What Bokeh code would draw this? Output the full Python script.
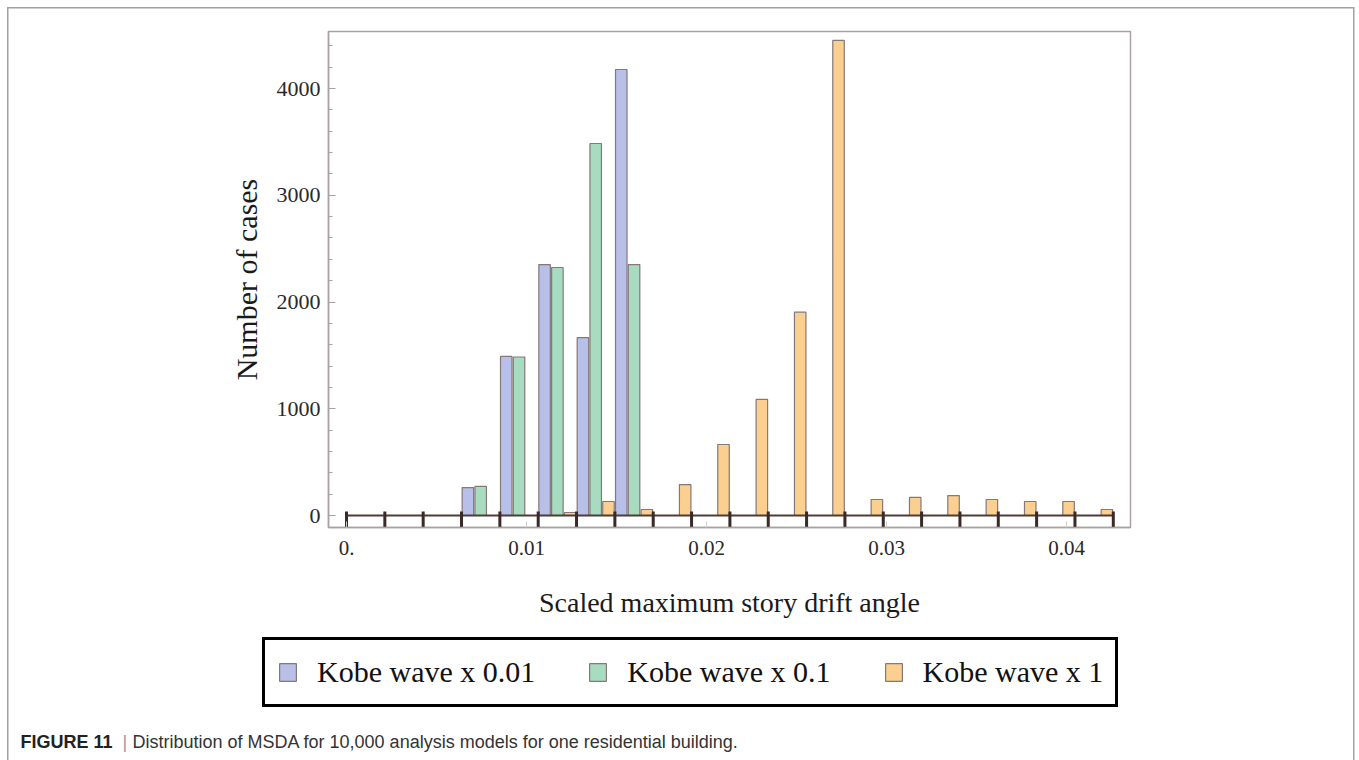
from bokeh.plotting import figure
from bokeh.layouts import column
from bokeh.models import Range1d, FixedTicker, Legend, LegendItem, Label
from bokeh.embed import file_html
from bokeh.resources import INLINE

# ---------------- data ----------------
bin_width = 0.00213
bin_index = list(range(20))
kobe_x001 = [0, 0, 0, 262, 1490, 2351, 1667, 4178, 0, 0, 0, 0, 0, 0, 0, 0, 0, 0, 0, 0]
kobe_x01 = [0, 0, 0, 272, 1485, 2323, 3485, 2351, 0, 0, 0, 0, 0, 0, 0, 0, 0, 0, 0, 0]
kobe_x1 = [0, 0, 0, 0, 0, 28, 131, 56, 290, 665, 1087, 1905, 4450, 150, 169, 187, 150, 131, 131, 56]
series_names = ["Kobe wave x 0.01", "Kobe wave x 0.1", "Kobe wave x 1"]
series_colors = ["#b8bfe8", "#a7dcc0", "#fbcf8f"]
y_ticks = [0, 1000, 2000, 3000, 4000]
y_minor_ticks = list(range(0, 4600, 200))
x_ticks = [0.0, 0.01, 0.02, 0.03, 0.04]
x_tick_labels = ["0.", "0.01", "0.02", "0.03", "0.04"]
x_title = "Scaled maximum story drift angle"
y_title = "Number of cases"
caption_bold = "FIGURE 11"
caption_text = "Distribution of MSDA for 10,000 analysis models for one residential building."

# page-pixel helpers for the chart frame (x=0 at px 346, y=0 at px 515)
PX_PER_X = 18000.0
PX_PER_Y = 0.10675
def X(px):
    return (px - 346.0) / PX_PER_X
def Y(py):
    return (515.0 - py) / PX_PER_Y

W = 1359
H_TOP = 625
H_BOT = 760 - H_TOP
serif = "Liberation Serif"
frame_col = "#aaa2a2"

p = figure(width=W, height=H_TOP, output_backend="svg", toolbar_location=None,
           x_range=Range1d(X(328), X(1130)), y_range=Range1d(Y(527), Y(31)),
           min_border_left=328, min_border_right=W - 1130,
           min_border_top=31, min_border_bottom=H_TOP - 527)
p.background_fill_color = "white"
p.border_fill_alpha = 0
p.outline_line_color = frame_col
p.outline_line_width = 1.5
p.xgrid.visible = False
p.ygrid.visible = False

# y axis
ya = p.yaxis[0]
ya.ticker = FixedTicker(ticks=y_ticks, minor_ticks=y_minor_ticks)
ya.axis_line_color = frame_col
ya.axis_line_width = 1.5
ya.major_tick_line_color = frame_col
ya.minor_tick_line_color = frame_col
ya.major_tick_in = 7
ya.major_tick_out = 0
ya.minor_tick_in = 4
ya.minor_tick_out = 0
ya.major_label_text_font = serif
ya.major_label_text_font_size = "22px"
ya.major_label_text_color = "#2a2a2a"
ya.major_label_standoff = 8
ya.axis_label = y_title
ya.axis_label_text_font = serif
ya.axis_label_text_font_size = "30px"
ya.axis_label_text_font_style = "normal"
ya.axis_label_text_color = "#1a1a1a"
ya.axis_label_standoff = 11

# x axis
xa = p.xaxis[0]
xa.ticker = FixedTicker(ticks=x_ticks, minor_ticks=[])
xa.major_label_overrides = {t: l for t, l in zip(x_ticks, x_tick_labels)}
xa.axis_line_color = frame_col
xa.axis_line_width = 1.5
xa.major_tick_line_color = "#d0caca"
xa.major_tick_in = 6
xa.major_tick_out = 0
xa.major_label_text_font = serif
xa.major_label_text_font_size = "21px"
xa.major_label_text_color = "#2a2a2a"
xa.major_label_standoff = 13
xa.axis_label = x_title
xa.axis_label_text_font = serif
xa.axis_label_text_font_size = "28px"
xa.axis_label_text_font_style = "normal"
xa.axis_label_text_color = "#1a1a1a"
xa.axis_label_standoff = 29

# bars: three series side by side in each bin
series_values = [kobe_x001, kobe_x01, kobe_x1]
for s, (vals, col) in enumerate(zip(series_values, series_colors)):
    xs = [(i + (s + 0.5) / 3.0) * bin_width for i in bin_index]
    p.vbar(x=xs, top=vals, bottom=0, width=bin_width / 3.0 * 0.9,
           fill_color=col, line_color="#857878", line_width=1.2)

# baseline and bin-edge marks
edges = [k * bin_width for k in range(len(bin_index) + 1)]
p.line(x=[edges[0], edges[-1]], y=[0, 0], line_color="#4e3c38", line_width=2.2)
p.segment(x0=edges, y0=[Y(511)] * len(edges), x1=edges, y1=[Y(528)] * len(edges),
          line_color="#3a2a27", line_width=3)

# ---------------- bottom strip: legend + caption (page-pixel coordinates) ----------------
q = figure(width=W, height=H_BOT, output_backend="svg", toolbar_location=None,
           x_range=Range1d(0, W), y_range=Range1d(760, H_TOP),
           x_axis_type=None, y_axis_type=None, min_border=0)
q.outline_line_color = None
q.background_fill_alpha = 0
q.border_fill_alpha = 0
q.xgrid.visible = False
q.ygrid.visible = False

for fig in (p, q):
    try:
        fig.frame_align = False
    except Exception:
        pass

# hidden copies of the series, used only to supply the legend swatches
legend_renderers = []
for s, (vals, col) in enumerate(zip(series_values, series_colors)):
    xs = [(i + (s + 0.5) / 3.0) * bin_width for i in bin_index]
    legend_renderers.append(q.vbar(x=xs, top=vals, bottom=0, width=bin_width / 3.0 * 0.9,
                                   fill_color=col, line_color="#857878", line_width=1.2,
                                   visible=False))

legend = Legend(items=[LegendItem(label=n, renderers=[r]) for n, r in zip(series_names, legend_renderers)],
                orientation="horizontal", location=(262, 760 - 707),
                border_line_color="black", border_line_width=3, border_line_alpha=1.0,
                background_fill_color="white", background_fill_alpha=1.0,
                inactive_fill_alpha=0.0,
                label_text_font=serif, label_text_font_size="30px", label_text_color="#111111",
                glyph_width=21, glyph_height=22, label_standoff=19, spacing=52,
                padding=12, margin=0, label_height=40)
q.add_layout(legend)

q.add_layout(Label(x=20, y=741, text=caption_bold, text_font="Liberation Sans",
                   text_font_style="bold", text_font_size="18px", text_color="#222222",
                   text_baseline="middle"))
q.add_layout(Label(x=122, y=741, text="|", text_font="Liberation Sans",
                   text_font_size="18px", text_color="#999999", text_baseline="middle"))
q.add_layout(Label(x=132, y=741, text=caption_text, text_font="Liberation Sans",
                   text_font_size="18px", text_color="#333333", text_baseline="middle"))

g = "linear-gradient(#a0a0a0, #a0a0a0)"
layout = column(p, q, spacing=0, styles={
    "background-color": "white",
    "background-image": f"{g}, {g}, {g}",
    "background-size": "1.5px 760px, 1347px 1.5px, 1.5px 760px",
    "background-position": "7px 6.5px, 7px 6.5px, 1353px 6.5px",
    "background-repeat": "no-repeat",
})

open("out.html", "w").write(file_html(layout, INLINE))
